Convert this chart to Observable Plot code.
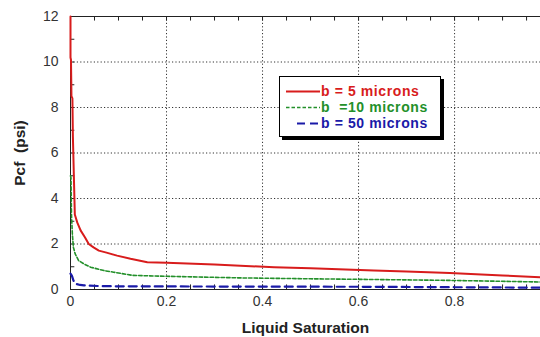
<!DOCTYPE html>
<html><head><meta charset="utf-8">
<script src="https://cdn.jsdelivr.net/npm/d3@7"></script>
<script src="https://cdn.jsdelivr.net/npm/@observablehq/plot@0.6"></script>
<style>
html,body{margin:0;padding:0;background:#fff;}
#wrap{position:relative;width:540px;height:337px;font-family:"Liberation Sans",Arial,sans-serif;}
#legend{position:absolute;left:279px;top:76px;width:162px;height:61px;box-sizing:border-box;border:1px solid #000;background:#fff;box-shadow:3px 3px 0 #000;font-weight:bold;font-size:14px;letter-spacing:0.6px;}
.row{position:absolute;left:0;height:16px;line-height:16px;white-space:pre;}
.lt{position:absolute;left:41px;top:0;}
</style>
</head><body><div id="wrap"></div>
<script>
const seriesNames = ["b = 5 microns", "b  =10 microns", "b = 50 microns"];
const redX = [0, 0, 0.001, 0.002, 0.004, 0.005, 0.007, 0.009, 0.014, 0.021, 0.03, 0.038, 0.048, 0.059, 0.075, 0.097, 0.125, 0.16, 0.2, 0.3, 0.424, 0.5, 0.632, 0.7, 0.79, 0.9, 0.98];
const redY = [12, 10.2, 10.1, 8.5, 8.4, 6.7, 5.0, 3.3, 2.95, 2.6, 2.3, 2.0, 1.85, 1.71, 1.62, 1.49, 1.35, 1.2, 1.18, 1.1, 0.98, 0.93, 0.83, 0.79, 0.72, 0.62, 0.54];
const greenX = [0, 0.001, 0.002, 0.004, 0.006, 0.01, 0.017, 0.03, 0.042, 0.07, 0.09, 0.13, 0.2, 0.354, 0.5, 0.63, 0.79, 0.98];
const greenY = [5.0, 4.9, 3.3, 2.4, 1.86, 1.55, 1.27, 1.1, 0.98, 0.83, 0.76, 0.62, 0.58, 0.51, 0.47, 0.44, 0.40, 0.33];
const blueX = [0, 0.003, 0.006, 0.01, 0.02, 0.028, 0.06, 0.1, 0.3, 0.6, 0.8, 0.98];
const blueY = [0.7, 0.6, 0.4, 0.25, 0.2, 0.18, 0.15, 0.14, 0.13, 0.12, 0.1, 0.08];
const colors = ["#d81c1c", "#23902a", "#1a1aa8"];
const xMajor = [0, 0.2, 0.4, 0.6, 0.8];
const xMinor = [0, 0.05, 0.1, 0.15, 0.2, 0.25, 0.3, 0.35, 0.4, 0.45, 0.5, 0.55, 0.6, 0.65, 0.7, 0.75, 0.8, 0.85, 0.9, 0.95];
const yMajor = [0, 2, 4, 6, 8, 10, 12];
const yMinor = [0, 1, 2, 3, 4, 5, 6, 7, 8, 9, 10, 11, 12];
const xLabel = "Liquid Saturation";
const yLabel = "Pcf  (psi)";

const toRows = (xs, ys) => xs.map((x, i) => ({x, y: ys[i]}));
const red = toRows(redX, redY), green = toRows(greenX, greenY), blue = toRows(blueX, blueY);

const chart = Plot.plot({
  width: 540, height: 337,
  marginLeft: 70, marginRight: 0, marginTop: 16, marginBottom: 48,
  style: {fontFamily: "'Liberation Sans', Arial, sans-serif", background: "#fff", overflow: "visible"},
  x: {domain: [0, 0.979], label: null},
  y: {domain: [0, 12], label: null},
  marks: [
    Plot.gridX(xMajor.filter(d => d > 0), {stroke: "#333", strokeOpacity: 1, strokeDasharray: "1.2,2.2", strokeWidth: 1}),
    Plot.gridY(yMajor.filter(d => d > 0 && d < 12), {stroke: "#333", strokeOpacity: 1, strokeDasharray: "1.2,2.2", strokeWidth: 1}),
    Plot.ruleX(xMinor, {y1: 0, y2: 0.2, stroke: "#222"}),
    Plot.ruleX(xMinor, {y1: 12, y2: 11.8, stroke: "#222"}),
    Plot.ruleY(yMinor, {x1: 0, x2: 0.009, stroke: "#222"}),
    Plot.ruleX([0], {stroke: "#222"}),
    Plot.ruleY([0, 12], {stroke: "#222"}),
    Plot.axisX(xMajor, {tickSize: 0, tickPadding: 7, fontSize: 14, fill: "#333", tickFormat: d => d === 0 ? "0" : String(d)}),
    Plot.axisY(yMajor, {tickSize: 0, tickPadding: 12, fontSize: 14, fill: "#333"}),
    Plot.text([xLabel], {frameAnchor: "bottom", dy: 39, fontSize: 15.5, fontWeight: "bold", fill: "#222", lineAnchor: "middle"}),
    Plot.text([yLabel], {frameAnchor: "left", dx: -50, dy: 0, rotate: -90, fontSize: 15.5, fontWeight: "bold", fill: "#222", textAnchor: "middle"}),
    Plot.line(blue, {x: "x", y: "y", stroke: colors[2], strokeWidth: 2.2, strokeDasharray: "8,5"}),
    Plot.line(green, {x: "x", y: "y", stroke: colors[1], strokeWidth: 1.6, strokeDasharray: "3.5,2"}),
    Plot.line(red, {x: "x", y: "y", stroke: colors[0], strokeWidth: 2})
  ]
});
const wrap = document.getElementById("wrap");
wrap.appendChild(chart);

const legend = document.createElement("div");
legend.id = "legend";
const dashes = ["none", "3.5,2", "8,5"];
const widths = [1.8, 1.6, 2.2];
seriesNames.forEach((name, i) => {
  const row = document.createElement("div");
  row.className = "row";
  row.style.top = (6 + i * 16) + "px";
  row.style.width = "100%";
  const sw = document.createElementNS("http://www.w3.org/2000/svg", "svg");
  sw.setAttribute("width", 36); sw.setAttribute("height", 16);
  sw.style.position = "absolute"; sw.style.left = "5px"; sw.style.top = "0px";
  const ln = document.createElementNS("http://www.w3.org/2000/svg", "line");
  ln.setAttribute("x1", i === 2 ? 12 : 1); ln.setAttribute("x2", 35); ln.setAttribute("y1", 8.5); ln.setAttribute("y2", 8.5);
  ln.setAttribute("stroke", colors[i]); ln.setAttribute("stroke-width", widths[i]);
  if (dashes[i] !== "none") ln.setAttribute("stroke-dasharray", dashes[i]);
  sw.appendChild(ln);
  row.appendChild(sw);
  const t = document.createElement("span");
  t.className = "lt"; t.textContent = name; t.style.color = colors[i];
  row.appendChild(t);
  legend.appendChild(row);
});
wrap.appendChild(legend);
</script>
</body></html>
